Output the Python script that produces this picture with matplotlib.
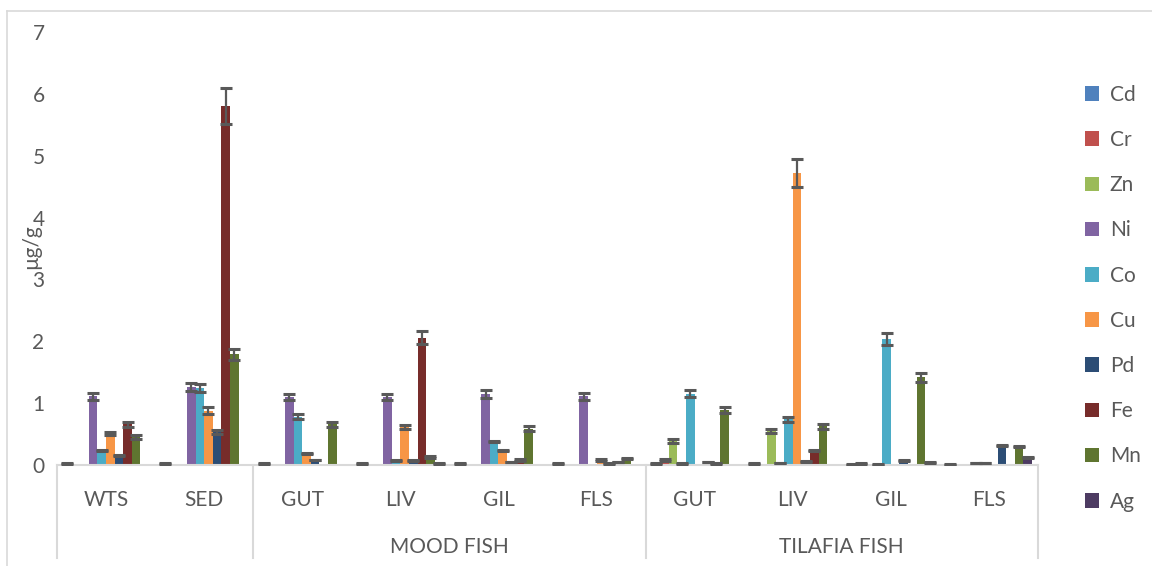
import numpy as np
import matplotlib.pyplot as plt
from matplotlib.patches import Patch
import matplotlib.transforms as mtransforms

plt.rcParams['font.family'] = ['Lato', 'DejaVu Sans']

groups = ['WTS', 'SED', 'GUT', 'LIV', 'GIL', 'FLS', 'GUT', 'LIV', 'GIL', 'FLS']
parents = ['MOOD FISH', 'TILAFIA FISH']
metals = ['Cd', 'Cr', 'Zn', 'Ni', 'Co', 'Cu', 'Pd', 'Fe', 'Mn', 'Ag']
colors = ['#4F81BD', '#C0504D', '#9BBB59', '#8064A2', '#4BACC6',
          '#F79646', '#2C4D75', '#772C2A', '#5F7530', '#4D3B62']

# values per metal, one entry per group (WTS, SED, mood x4, tilafia x4)
cd = [0.02, 0.02, 0.02, 0.02, 0.02, 0.02, 0.02, 0.02, 0.01, 0.01]
cr = [0, 0, 0, 0, 0, 0, 0.08, 0, 0.02, 0]
zn = [0, 0, 0, 0, 0, 0, 0.39, 0.55, 0, 0]
ni = [1.11, 1.26, 1.10, 1.10, 1.15, 1.11, 0.02, 0.03, 0.01, 0.03]
co = [0.23, 1.25, 0.78, 0.07, 0.38, 0, 1.15, 0.74, 2.04, 0.03]
cu = [0.51, 0.88, 0.18, 0.61, 0.23, 0.08, 0, 4.72, 0, 0]
pd_ = [0.15, 0.53, 0.08, 0.07, 0.05, 0.02, 0.05, 0.06, 0.07, 0.31]
fe = [0.66, 5.80, 0, 2.06, 0.08, 0.05, 0.02, 0.24, 0, 0]
mn = [0.45, 1.79, 0.66, 0.13, 0.59, 0.10, 0.89, 0.63, 1.42, 0.30]
ag = [0, 0, 0, 0.02, 0, 0, 0, 0, 0.04, 0.12]

cd_err = [0.005] * 10
cr_err = [0, 0, 0, 0, 0, 0, 0.01, 0, 0.005, 0]
zn_err = [0, 0, 0, 0, 0, 0, 0.03, 0.03, 0, 0]
ni_err = [0.06, 0.065, 0.055, 0.055, 0.06, 0.06, 0.005, 0.005, 0.005, 0.005]
co_err = [0.01, 0.065, 0.04, 0.005, 0.01, 0, 0.055, 0.04, 0.10, 0.005]
cu_err = [0.03, 0.05, 0.01, 0.035, 0.01, 0.01, 0, 0.23, 0, 0]
pd_err = [0.01, 0.03, 0.005, 0.005, 0.005, 0.005, 0.005, 0.01, 0.01, 0.01]
fe_err = [0.04, 0.29, 0, 0.11, 0.01, 0.005, 0.005, 0.01, 0, 0]
mn_err = [0.03, 0.09, 0.04, 0.01, 0.035, 0.01, 0.045, 0.04, 0.075, 0.01]
ag_err = [0, 0, 0, 0.005, 0, 0, 0, 0, 0.005, 0.01]

values = [cd, cr, zn, ni, co, cu, pd_, fe, mn, ag]
errors = [cd_err, cr_err, zn_err, ni_err, co_err, cu_err, pd_err, fe_err, mn_err, ag_err]

grey = '#595959'
light = '#D9D9D9'

fig = plt.figure(figsize=(11.52, 5.66), dpi=100)
ax = fig.add_axes([57 / 1152, 101 / 566, 981 / 1152, 433 / 566])

x = np.arange(len(groups))
w = 0.0877
for i, (name, v, e, c) in enumerate(zip(metals, values, errors, colors)):
    v = np.array(v)
    e = np.array(e)
    xs = x + (i - 4.5) * w
    ax.bar(xs, v, width=w, color=c, label=name, linewidth=0)
    m = v > 0
    ax.errorbar(xs[m], v[m], yerr=e[m], fmt='none', ecolor=grey,
                elinewidth=1.6, capsize=4.3, capthick=2.2, zorder=3)

ax.set_xlim(-0.5, 9.5)
ax.set_ylim(0, 7)
ax.set_yticks(range(8))
ax.tick_params(axis='y', length=0, pad=9, labelsize=15, labelcolor=grey)
ax.set_xticks([])
for s in ['left', 'right', 'top']:
    ax.spines[s].set_visible(False)
ax.spines['bottom'].set_color(light)
ax.spines['bottom'].set_linewidth(1.5)

# multi-level category axis
trans = mtransforms.blended_transform_factory(ax.transData, ax.transAxes)
for xi, g in zip(x, groups):
    ax.text(xi, -35 / 433, g, transform=trans, ha='center', va='center',
            fontsize=15, color=grey)
ax.text(3.5, -82 / 433, parents[0], transform=trans, ha='center', va='center',
        fontsize=15, color=grey)
ax.text(7.5, -82 / 433, parents[1], transform=trans, ha='center', va='center',
        fontsize=15, color=grey)
for sx in [-0.5, 1.5, 5.5, 9.5]:
    ax.plot([sx, sx], [0, -93 / 433], transform=trans, color=light,
            lw=1.5, clip_on=False)

fig.text(31 / 1152, 1 - 247 / 566, 'µg/g', rotation=90, ha='center',
         va='center', fontsize=15, color=grey)

# chart area border
fig.add_artist(plt.Line2D([7 / 1152, 7 / 1152], [0, 1 - 11 / 566],
                          transform=fig.transFigure, color=light, lw=1.2))
fig.add_artist(plt.Line2D([7 / 1152, 1], [1 - 11 / 566, 1 - 11 / 566],
                          transform=fig.transFigure, color=light, lw=1.2))

handles = [Patch(facecolor=c, label=n) for n, c in zip(metals, colors)]
leg = fig.legend(handles=handles, loc='upper left',
                 bbox_to_anchor=(1066 / 1152, 1 - 66 / 566), frameon=False,
                 fontsize=15, handlelength=0.7, handleheight=0.7,
                 handletextpad=0.5, labelspacing=1.21)
for t in leg.get_texts():
    t.set_color(grey)

fig.savefig('out.png', dpi=100)
